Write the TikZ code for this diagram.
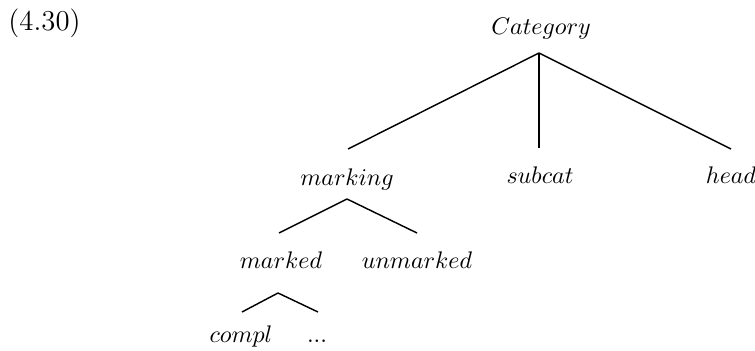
\documentclass[tikz,border=0pt]{standalone}
\usetikzlibrary{calc}
\begin{document}
\begin{tikzpicture}[x=0.4167pt,y=-0.4167pt,
  lab/.style={anchor=base,inner sep=0pt},
  edge/.style={line width=0.6pt},
  vedge/.style={line width=0.9pt}]
\useasboundingbox (0,0) rectangle (755,350);
\node[anchor=base west,inner sep=0pt,font=\fontsize{12}{14}\selectfont] (num) at (8,31) {(4.30)};
\node[lab] (cat) at (541,35) {$Category$};
\node[lab] (marking) at (347,185) {$marking$};
\node[lab] (subcat) at (540,183) {$subcat$};
\node[lab] (head) at (731,183) {$head$};
\node[lab] (marked) at (281,268) {$marked$};
\node[lab] (unmarked) at (417,268) {$unmarked$};
\node[lab] (compl) at (241,342) {$compl$};
\node[lab] (dots) at (317,342) {$...$};
\draw[edge] ($(cat.base)+(-2,18)$) -- ($(marking.base)+(1,-36)$);
\draw[vedge] ($(cat.base)+(-2,18)$) -- ($(subcat.base)+(-1,-35)$);
\draw[edge] ($(cat.base)+(-2,18)$) -- ($(head.base)+(0,-34)$);
\draw[edge] ($(marking.base)+(0,14)$) -- ($(marked.base)+(-2,-35)$);
\draw[edge] ($(marking.base)+(0,14)$) -- ($(unmarked.base)+(0,-35)$);
\draw[edge] ($(marked.base)+(-3,25)$) -- ($(compl.base)+(1,-30)$);
\draw[edge] ($(marked.base)+(-3,25)$) -- ($(dots.base)+(1,-30)$);
\end{tikzpicture}
\end{document}
